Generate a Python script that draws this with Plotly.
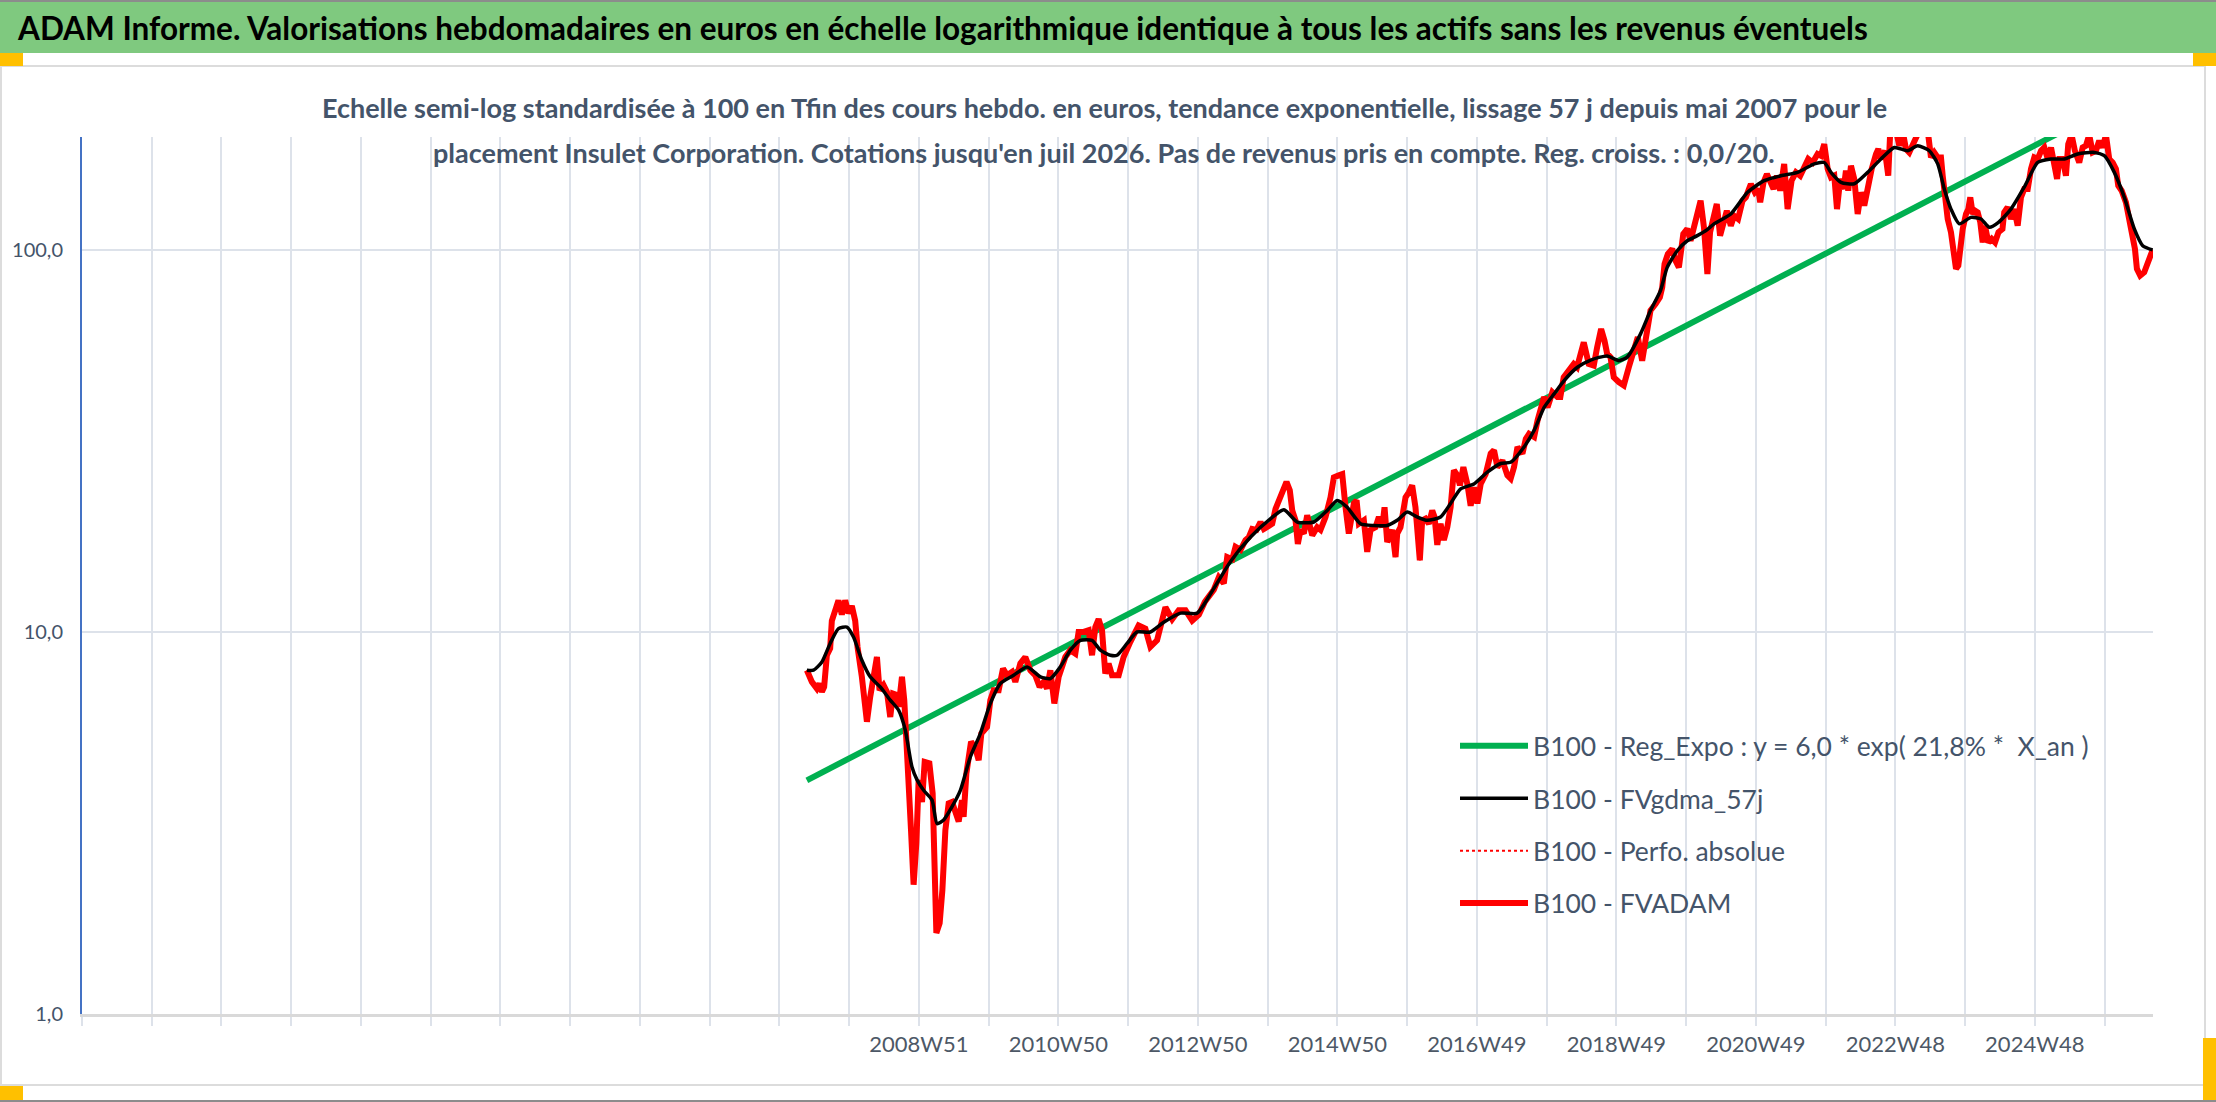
import datetime as dt

import pandas as pd
import plotly.graph_objects as go

# ---------------------------------------------------------------------------
# data (decimal years / base 100 values)
# ---------------------------------------------------------------------------

years_fvadam = [
    2007.354, 2007.426, 2007.497, 2007.534, 2007.569, 2007.601, 2007.640, 2007.687, 2007.711, 2007.759,
    2007.806, 2007.854, 2007.902, 2007.949, 2007.997, 2008.045, 2008.078, 2008.140, 2008.173, 2008.212,
    2008.259, 2008.306, 2008.355, 2008.392, 2008.449, 2008.498, 2008.545, 2008.584, 2008.631, 2008.664,
    2008.712, 2008.745, 2008.807, 2008.841, 2008.878, 2008.917, 2008.950, 2008.998, 2009.036, 2009.103,
    2009.150, 2009.174, 2009.203, 2009.250, 2009.289, 2009.332, 2009.379, 2009.427, 2009.474, 2009.522,
    2009.570, 2009.593, 2009.632, 2009.699, 2009.760, 2009.808, 2009.846, 2009.928, 2009.975, 2010.022,
    2010.094, 2010.156, 2010.214, 2010.285, 2010.332, 2010.404, 2010.475, 2010.547, 2010.618, 2010.680,
    2010.737, 2010.786, 2010.833, 2010.890, 2010.952, 2011.047, 2011.119, 2011.190, 2011.237, 2011.309,
    2011.381, 2011.429, 2011.476, 2011.523, 2011.572, 2011.619, 2011.666, 2011.715, 2011.810, 2011.881,
    2011.977, 2012.095, 2012.191, 2012.263, 2012.358, 2012.477, 2012.573, 2012.667, 2012.763, 2012.859,
    2012.954, 2013.040, 2013.168, 2013.239, 2013.311, 2013.359, 2013.431, 2013.478, 2013.550, 2013.621,
    2013.668, 2013.717, 2013.778, 2013.835, 2013.883, 2013.931, 2014.003, 2014.050, 2014.097, 2014.146,
    2014.207, 2014.254, 2014.289, 2014.336, 2014.369, 2014.408, 2014.455, 2014.503, 2014.575, 2014.646,
    2014.693, 2014.765, 2014.836, 2014.884, 2014.955, 2015.004, 2015.051, 2015.098, 2015.170, 2015.209,
    2015.242, 2015.313, 2015.361, 2015.409, 2015.480, 2015.528, 2015.576, 2015.609, 2015.647, 2015.719,
    2015.766, 2015.790, 2015.837, 2015.909, 2015.956, 2016.004, 2016.051, 2016.075, 2016.113, 2016.147,
    2016.194, 2016.242, 2016.290, 2016.323, 2016.362, 2016.409, 2016.456, 2016.505, 2016.552, 2016.599,
    2016.648, 2016.685, 2016.734, 2016.791, 2016.838, 2016.885, 2016.934, 2016.981, 2017.053, 2017.124,
    2017.172, 2017.220, 2017.292, 2017.363, 2017.410, 2017.458, 2017.507, 2017.578, 2017.626, 2017.673,
    2017.745, 2017.794, 2017.841, 2017.888, 2017.937, 2018.006, 2018.078, 2018.120, 2018.168, 2018.239,
    2018.311, 2018.359, 2018.455, 2018.526, 2018.598, 2018.646, 2018.703, 2018.751, 2018.789, 2018.837,
    2018.884, 2018.956, 2019.027, 2019.099, 2019.170, 2019.228, 2019.290, 2019.352, 2019.409, 2019.481,
    2019.543, 2019.577, 2019.610, 2019.657, 2019.720, 2019.767, 2019.815, 2019.878, 2019.935, 2019.982,
    2020.054, 2020.125, 2020.173, 2020.222, 2020.260, 2020.308, 2020.356, 2020.403, 2020.452, 2020.499,
    2020.556, 2020.603, 2020.660, 2020.723, 2020.770, 2020.842, 2020.899, 2020.946, 2020.975, 2021.023,
    2021.071, 2021.118, 2021.166, 2021.214, 2021.261, 2021.318, 2021.367, 2021.424, 2021.486, 2021.547,
    2021.605, 2021.662, 2021.725, 2021.796, 2021.843, 2021.891, 2021.940, 2021.987, 2022.034, 2022.073,
    2022.120, 2022.169, 2022.201, 2022.234, 2022.273, 2022.320, 2022.369, 2022.416, 2022.463, 2022.512,
    2022.569, 2022.631, 2022.664, 2022.702, 2022.759, 2022.806, 2022.835, 2022.917, 2022.964, 2023.012,
    2023.059, 2023.106, 2023.155, 2023.202, 2023.249, 2023.321, 2023.378, 2023.417, 2023.464, 2023.513,
    2023.560, 2023.585, 2023.632, 2023.656, 2023.703, 2023.742, 2023.775, 2023.808, 2023.836, 2023.871,
    2023.918, 2023.951, 2023.979, 2024.014, 2024.046, 2024.085, 2024.122, 2024.156, 2024.189, 2024.237,
    2024.284, 2024.332, 2024.381, 2024.438, 2024.463, 2024.512, 2024.559, 2024.606, 2024.655, 2024.702,
    2024.749, 2024.798, 2024.845, 2024.892, 2024.941, 2024.988, 2025.035, 2025.084, 2025.131, 2025.178,
    2025.217, 2025.250, 2025.297, 2025.344, 2025.377, 2025.425, 2025.472, 2025.534, 2025.583, 2025.630,
    2025.677, 2025.726, 2025.773, 2025.820, 2025.869, 2025.916, 2025.963, 2026.012, 2026.059, 2026.092,
    2026.141, 2026.202, 2026.249, 2026.298, 2026.331, 2026.359, 2026.406, 2026.464, 2026.502, 2026.535,
    2026.584,
]
fvadam = [
    7.94, 7.40, 7.11, 7.33, 6.97, 7.18, 8.69, 9.05, 10.7, 11.4,
    12.1, 11.1, 12.1, 11.2, 11.7, 10.7, 9.14, 7.63, 6.90, 5.82,
    6.76, 7.78, 8.60, 7.04, 7.26, 6.97, 5.99, 6.90, 6.85, 6.37,
    7.63, 6.63, 4.26, 3.03, 2.18, 2.80, 4.10, 3.59, 4.57, 4.53,
    3.78, 2.53, 1.63, 1.73, 2.11, 3.03, 3.56, 3.59, 3.35, 3.19,
    3.63, 3.28, 4.26, 5.16, 4.96, 4.62, 5.42, 5.64, 6.63, 7.04,
    7.04, 8.02, 7.70, 7.86, 7.40, 8.27, 8.60, 7.94, 7.70, 7.18,
    7.40, 7.11, 7.94, 6.50, 7.63, 8.60, 8.96, 8.78, 10.0, 10.0,
    10.1, 8.69, 10.3, 10.8, 10.1, 7.78, 8.27, 7.70, 7.70, 8.60,
    9.42, 10.4, 10.2, 9.14, 9.51, 11.6, 10.8, 11.4, 11.4, 10.7,
    11.1, 12.0, 12.9, 13.9, 13.4, 15.7, 15.5, 16.7, 16.4, 17.4,
    17.7, 18.6, 18.5, 19.4, 18.6, 18.8, 19.2, 21.0, 21.9, 23.2,
    24.7, 23.5, 20.8, 19.6, 17.0, 18.5, 18.1, 20.2, 17.9, 18.8,
    18.5, 20.0, 22.5, 25.4, 25.7, 25.9, 21.2, 18.1, 21.7, 22.1,
    19.2, 19.6, 16.2, 18.5, 18.8, 20.0, 18.8, 21.2, 17.2, 18.5,
    15.7, 18.1, 18.8, 22.5, 23.2, 24.2, 21.2, 17.7, 15.4, 19.6,
    19.8, 19.2, 20.8, 20.0, 16.9, 19.2, 17.4, 18.8, 21.2, 26.5,
    25.7, 24.2, 27.0, 24.4, 21.4, 23.9, 21.7, 24.4, 25.9, 29.3,
    29.9, 27.0, 28.1, 25.7, 25.2, 27.0, 30.5, 29.3, 32.0, 33.0,
    32.4, 35.8, 38.0, 41.2, 38.7, 42.4, 41.2, 41.2, 46.4, 48.3,
    50.3, 49.3, 57.3, 50.3, 49.8, 55.6, 62.1, 57.9, 53.5, 52.4,
    46.4, 45.1, 44.2, 49.3, 55.6, 59.1, 51.3, 59.1, 69.4, 72.2,
    75.2, 79.8, 91.9, 97.6, 100.6, 93.8, 90.0, 110.1, 113.5, 105.7,
    119.3, 134.5, 114.6, 86.5, 111.2, 122.9, 131.9, 109.0, 118.1, 126.7,
    115.7, 122.9, 120.5, 134.5, 137.3, 148.8, 141.5, 144.4, 133.2, 150.3,
    158.0, 151.8, 144.4, 156.4, 142.9, 167.9, 127.9, 151.8, 159.6, 156.4,
    166.1, 173.0, 169.4, 178.3, 176.5, 189.3, 162.9, 154.9, 156.4, 127.9,
    153.4, 144.4, 161.3, 142.9, 166.1, 153.4, 124.2, 141.5, 130.6, 147.3,
    162.9, 178.3, 183.7, 173.0, 181.8, 156.4, 205.0, 205.0, 187.4, 205.0,
    183.7, 180.0, 189.3, 200.0, 205.0, 205.0, 200.0, 174.6, 180.0, 174.6,
    174.6, 156.4, 127.9, 120.5, 111.2, 100.6, 89.2, 91.0, 100.6, 113.5,
    124.2, 127.9, 137.3, 124.2, 126.7, 125.4, 118.1, 104.7, 115.7, 104.7,
    106.9, 104.7, 111.2, 113.5, 125.4, 129.3, 120.5, 127.9, 115.7, 137.3,
    144.4, 144.4, 162.9, 174.6, 173.0, 181.8, 185.4, 173.0, 185.4, 162.9,
    153.4, 173.0, 173.0, 156.4, 189.3, 200.0, 181.8, 169.4, 185.4, 187.4,
    200.0, 180.0, 181.8, 193.1, 185.4, 200.0, 173.0, 169.4, 162.9, 147.3,
    142.9, 133.2, 120.5, 111.2, 100.6, 89.2, 85.7, 87.4, 91.9, 95.6,
    100.0,
]

years_mm = [
    2007.354, 2007.449, 2007.569, 2007.687, 2007.806, 2007.926, 2008.021, 2008.140, 2008.259, 2008.402,
    2008.545, 2008.664, 2008.760, 2008.855, 2008.927, 2009.021, 2009.141, 2009.213, 2009.307, 2009.427,
    2009.546, 2009.689, 2009.832, 2009.975, 2010.118, 2010.308, 2010.500, 2010.690, 2010.833, 2010.976,
    2011.119, 2011.262, 2011.429, 2011.548, 2011.691, 2011.787, 2011.930, 2012.073, 2012.263, 2012.453,
    2012.692, 2012.930, 2013.100, 2013.407, 2013.690, 2013.980, 2014.170, 2014.361, 2014.598, 2014.789,
    2014.932, 2015.075, 2015.265, 2015.456, 2015.647, 2015.790, 2015.933, 2016.075, 2016.218, 2016.409,
    2016.552, 2016.695, 2016.885, 2017.076, 2017.267, 2017.410, 2017.601, 2017.745, 2017.888, 2018.031,
    2018.174, 2018.364, 2018.554, 2018.790, 2018.956, 2019.076, 2019.267, 2019.409, 2019.552, 2019.648,
    2019.791, 2019.935, 2020.078, 2020.220, 2020.317, 2020.556, 2020.795, 2021.032, 2021.271, 2021.510,
    2021.747, 2021.891, 2021.987, 2022.130, 2022.320, 2022.512, 2022.702, 2022.893, 2023.083, 2023.226,
    2023.393, 2023.513, 2023.607, 2023.703, 2023.822, 2023.989, 2024.132, 2024.251, 2024.381, 2024.559,
    2024.749, 2024.941, 2025.131, 2025.321, 2025.513, 2025.750, 2025.893, 2026.036, 2026.179, 2026.322,
    2026.442, 2026.584,
]
fvgdma_57j = [
    7.94, 7.94, 8.35, 9.33, 10.2, 10.3, 9.70, 8.43, 7.63, 7.18,
    6.63, 6.24, 5.53, 4.43, 4.10, 3.85, 3.63, 3.15, 3.22, 3.49,
    3.85, 4.71, 5.42, 6.50, 7.33, 7.70, 8.10, 7.63, 7.55, 8.10,
    8.96, 9.51, 9.51, 8.96, 8.69, 8.69, 9.33, 10.0, 10.0, 10.6,
    11.2, 11.2, 12.4, 15.3, 17.7, 19.8, 20.9, 19.4, 19.4, 20.8,
    22.1, 21.2, 19.2, 19.0, 19.0, 19.6, 20.6, 20.0, 19.6, 20.0,
    21.7, 23.7, 24.4, 26.2, 27.6, 27.8, 30.5, 33.7, 38.7, 42.0,
    45.5, 49.3, 51.5, 52.8, 51.3, 52.4, 60.3, 69.4, 78.3, 90.0,
    99.5, 105.7, 109.0, 113.0, 117.0, 124.2, 141.5, 151.8, 156.4, 159.6,
    168.0, 169.4, 159.6, 150.3, 149.0, 159.6, 173.0, 185.4, 181.8, 187.4,
    181.8, 168.0, 144.4, 127.9, 117.0, 121.7, 120.5, 114.6, 118.1, 127.9,
    146.0, 169.4, 173.0, 173.0, 178.3, 180.0, 176.5, 159.6, 137.3, 113.5,
    102.6, 100.0,
]

# exponential trend: straight on the log scale, first and last point
years_reg = [2007.354, 2026.584]
reg_expo = [4.09, 271.0]

week_labels = ["2008W51", "2010W50", "2012W50", "2014W50", "2016W49",
               "2018W49", "2020W49", "2022W48", "2024W48"]
y_ticks = [1, 10, 100]
y_tick_text = ["1,0", "10,0", "100,0"]

names = ["B100 - Reg_Expo : y = 6,0 * exp( 21,8% *  X_an )",
         "B100 - FVgdma_57j",
         "B100 - Perfo. absolue",
         "B100 - FVADAM"]

title_txt = ("ADAM Informe. Valorisations hebdomadaires en euros en échelle logarithmique "
             "identique à tous les actifs sans les revenus éventuels")
sub_1 = ("Echelle semi-log standardisée à 100 en Tfin des cours hebdo. en euros, tendance "
         "exponentielle, lissage 57 j depuis mai 2007 pour le")
sub_2 = ("placement Insulet Corporation. Cotations jusqu'en juil 2026. Pas de revenus pris "
         "en compte. Reg. croiss. : 0,0/20.")


def to_date(y):
    yr = int(y)
    a = pd.Timestamp(yr, 1, 1)
    b = pd.Timestamp(yr + 1, 1, 1)
    return a + (b - a) * (y - yr)


def iso_monday(lbl):
    return dt.date.fromisocalendar(int(lbl[:4]), int(lbl[5:]), 1)


# ---------------------------------------------------------------------------
# page geometry (pixels of the 2216 x 1102 picture)
# ---------------------------------------------------------------------------
W, H = 2216, 1102
ML, MR, MT, MB = 82, 63, 137, 88
PW, PH = W - ML - MR, H - MT - MB


def px(x):
    return (x - ML) / PW


def py(y):
    return (H - MB - y) / PH


FONT = "Lato, sans-serif"
SLATE = "#44546a"
GRID = "#dde2ea"
FRAME = "#dcdcdc"
HANDLE = "#ffc000"
WEEK_MS = 7 * 24 * 3600 * 1000

fig = go.Figure()

fig.add_trace(go.Scatter(
    x=[to_date(v) for v in years_reg], y=reg_expo, mode="lines", name=names[0],
    line=dict(color="#00b050", width=6), legendrank=1, legendgroup="a"))
fig.add_trace(go.Scatter(
    x=[to_date(v) for v in years_fvadam], y=fvadam, mode="lines", name=names[3],
    line=dict(color="#ff0000", width=6), legendrank=4, legendgroup="d"))
fig.add_trace(go.Scatter(
    x=[to_date(v) for v in years_fvadam], y=fvadam, mode="lines", name=names[2],
    line=dict(color="#ff0000", width=2, dash="dot"), legendrank=3, legendgroup="c"))
fig.add_trace(go.Scatter(
    x=[to_date(v) for v in years_mm], y=fvgdma_57j, mode="lines", name=names[1],
    line=dict(color="#000000", width=3.5, shape="spline", smoothing=0.6),
    legendrank=2, legendgroup="b"))

first_tick = iso_monday(week_labels[0])
x_left = first_tick - dt.timedelta(weeks=12 * 52)

fig.update_xaxes(
    type="date",
    range=[x_left, "2026-08-04"],
    tickvals=[iso_monday(s) for s in week_labels],
    ticktext=week_labels,
    tickfont=dict(family=FONT, size=22, color="#4d5866"),
    ticks="outside", ticklen=9, tickwidth=2, tickcolor=GRID,
    showgrid=True, gridcolor=GRID, gridwidth=2,
    minor=dict(tick0=first_tick, dtick=52 * WEEK_MS, showgrid=True, gridcolor=GRID,
               gridwidth=2, ticks="outside", ticklen=9, tickwidth=2, tickcolor=GRID),
    showline=True, linecolor="#d9d9d9", linewidth=3,
    zeroline=False, automargin=False,
)
fig.update_yaxes(
    type="log", range=[0, 2.2956],
    tickvals=y_ticks, ticktext=y_tick_text,
    tickfont=dict(family=FONT, size=20, color=SLATE),
    ticks="", ticklabelstandoff=13,
    showgrid=True, gridcolor=GRID, gridwidth=2,
    showline=True, linecolor="#4472c4", linewidth=2,
    zeroline=False, automargin=False,
)


def rect(x0, x1, y0, y1, color):
    return dict(type="rect", xref="paper", yref="paper", x0=px(x0), x1=px(x1),
                y0=py(y1), y1=py(y0), fillcolor=color, line_width=0, layer="above")


def hline(x0, x1, y, color, width=2):
    return dict(type="line", xref="paper", yref="paper", x0=px(x0), x1=px(x1),
                y0=py(y), y1=py(y), line=dict(color=color, width=width))


def vline(x, y0, y1, color, width=2):
    return dict(type="line", xref="paper", yref="paper", x0=px(x), x1=px(x),
                y0=py(y0), y1=py(y1), line=dict(color=color, width=width))


shapes = [
    # green title band and frame of the chart area
    rect(0, W, 1, 53, "#7fc97f"),
    hline(0, W, 1, "#8c8c8c"),
    hline(0, 2205, 66, FRAME),
    vline(2205, 66, 1085, FRAME),
    vline(1, 66, 1085, FRAME),
    hline(0, 2205, 1085, FRAME),
    hline(0, W, 1101, "#8c8c8c"),
    # selection handles
    rect(0, 23, 53, 66, HANDLE),
    rect(2193, W, 53, 66, HANDLE),
    rect(2203, W, 1038, 1100, HANDLE),
    rect(0, 23, 1086, 1100, HANDLE),
]

annotations = [
    dict(text="<b>%s</b>" % title_txt, x=px(15), y=py(28), xref="paper", yref="paper",
         xanchor="left", yanchor="middle", showarrow=False,
         font=dict(family=FONT, size=31.5, color="#000000")),
    dict(text="<b>%s</b>" % sub_1, x=px(1104), y=py(108), xref="paper", yref="paper",
         xanchor="center", yanchor="middle", showarrow=False,
         font=dict(family=FONT, size=27, color=SLATE)),
    dict(text="<b>%s</b>" % sub_2, x=px(1104), y=py(153), xref="paper", yref="paper",
         xanchor="center", yanchor="middle", showarrow=False,
         font=dict(family=FONT, size=27, color=SLATE)),
]

fig.update_layout(
    width=W, height=H,
    margin=dict(l=ML, r=MR, t=MT, b=MB),
    paper_bgcolor="white", plot_bgcolor="white",
    shapes=shapes, annotations=annotations,
    showlegend=True,
    legend=dict(x=px(1455), y=py(722), xanchor="left", yanchor="top",
                bgcolor="rgba(0,0,0,0)", itemwidth=68, traceorder="grouped",
                tracegroupgap=15, font=dict(family=FONT, size=26.5, color=SLATE)),
)

fig.write_html("out.html", config={"displayModeBar": False},
               post_script="document.body.style.margin='0';document.body.style.overflow='hidden';")
